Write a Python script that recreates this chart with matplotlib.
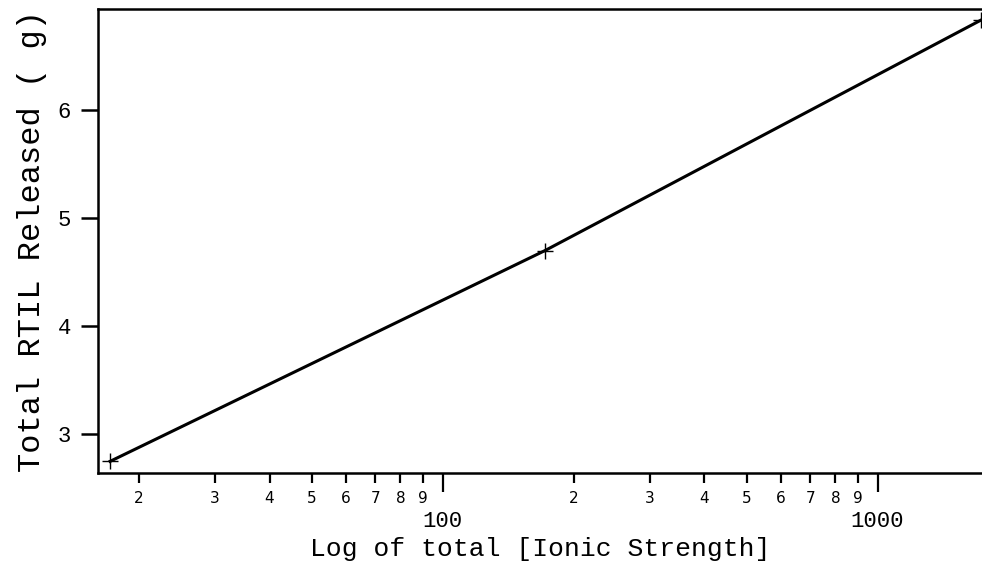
import matplotlib
matplotlib.use("Agg")
import matplotlib.pyplot as plt
from matplotlib.ticker import FixedLocator, FixedFormatter

ionic_strength = [17.2, 172.0, 1726.0]
rtil_released = [2.75, 4.70, 6.83]

major_ticks = [100, 1000]
major_labels = ["100", "1000"]
minor_ticks = [20, 30, 40, 50, 60, 70, 80, 90, 200, 300, 400, 500, 600, 700, 800, 900]
minor_labels = ["2", "3", "4", "5", "6", "7", "8", "9"] * 2
y_ticks = [3, 4, 5, 6]

mono = ["Liberation Mono", "DejaVu Sans Mono"]

fig = plt.figure(figsize=(9.82, 5.75), dpi=100)
ax = fig.add_axes([98.3 / 982, 1 - 472.7 / 575, 1 - 98.3 / 982, (472.7 - 9) / 575])

ax.plot(ionic_strength, rtil_released, color="black", lw=2.2,
        marker="+", markersize=12, markeredgewidth=1.0)

ax.set_xscale("log")
ax.set_xlim(16.16, 1738)
ax.set_ylim(2.645, 6.934)

ax.xaxis.set_major_locator(FixedLocator(major_ticks))
ax.xaxis.set_major_formatter(FixedFormatter(major_labels))
ax.xaxis.set_minor_locator(FixedLocator(minor_ticks))
ax.xaxis.set_minor_formatter(FixedFormatter(minor_labels))
ax.set_yticks(y_ticks)
ax.set_yticklabels([str(v) for v in y_ticks])

ax.tick_params(axis="x", which="major", direction="out", length=13.5, width=1.6,
               pad=14, labelsize=16)
ax.tick_params(axis="x", which="minor", direction="out", length=7, width=1.6,
               pad=6, labelsize=11)
ax.tick_params(axis="y", which="major", direction="out", length=12.5, width=1.8,
               pad=7, labelsize=16)
for lbl in ax.get_xticklabels(which="major") + ax.get_yticklabels():
    lbl.set_family(mono)
for lbl in ax.get_xticklabels(which="minor"):
    lbl.set_family(["DejaVu Sans"])

for side in ["left", "bottom", "top"]:
    ax.spines[side].set_linewidth(1.8)
ax.spines["right"].set_visible(False)

ax.set_xlabel("Log of total [Ionic Strength]", fontsize=19, family=mono, labelpad=4)
ax.set_ylabel("Total RTIL Released ( g)", fontsize=23, family=mono, labelpad=8)

fig.savefig("out.png", dpi=100)
